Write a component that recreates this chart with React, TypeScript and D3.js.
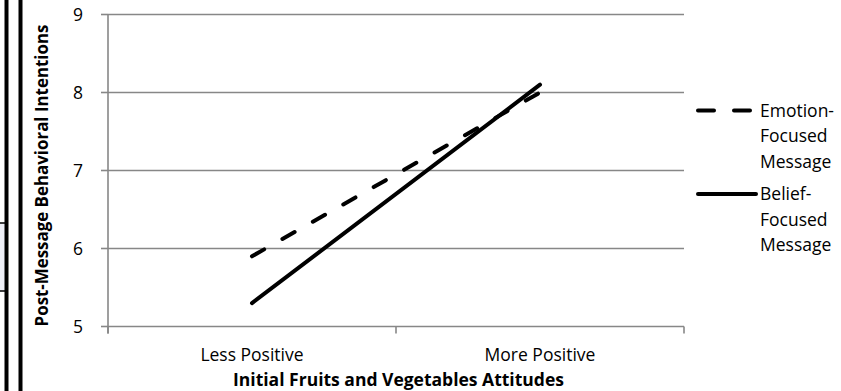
import React from "react";
import * as d3 from "d3";

const categories = ["Less Positive", "More Positive"];
const emotionValues = [5.9, 8.0];
const beliefValues = [5.3, 8.1];
const yTicks = [5, 6, 7, 8, 9];
const legendEmotion = ["Emotion-", "Focused", "Message"];
const legendBelief = ["Belief-", "Focused", "Message"];
const xTitle = "Initial Fruits and Vegetables Attitudes";
const yTitle = "Post-Message Behavioral Intentions";

const W = 841;
const H = 391;
const left = 108;
const right = 684;
const top = 14.5;
const bottom = 326.5;
const FONT = "'Open Sans', sans-serif";
const GRID = "#878787";

export default function App() {
  const x = d3.scaleBand<string>().domain(categories).range([left, right]).padding(0);
  const y = d3.scaleLinear().domain([5, 9]).range([bottom, top]);
  const cx = (c: string) => (x(c) as number) + x.bandwidth() / 2;
  const line = d3
    .line<number>()
    .x((_, i) => cx(categories[i]))
    .y((d) => y(d));
  const xTickPos = [left, ...categories.slice(1).map((c) => x(c) as number), right];

  return (
    <svg
      width={W}
      height={H}
      style={{ position: "fixed", left: 0, top: 0, background: "#fff" }}
      fontFamily={FONT}
    >
      <rect x={0} y={0} width={W} height={H} fill="#fff" />
      {/* left decorations */}
      <rect x={-2} y={223} width={8.5} height={68} fill="#eef0f8" stroke="#000" strokeWidth={1.5} />
      <line x1={6.5} x2={6.5} y1={0} y2={H} stroke="#000" strokeWidth={4} />
      <line x1={20.5} x2={20.5} y1={0} y2={H} stroke="#000" strokeWidth={4} />

      {/* gridlines */}
      {yTicks.slice(1).map((t) => (
        <line key={t} x1={left} x2={right} y1={y(t)} y2={y(t)} stroke={GRID} strokeWidth={1.6} />
      ))}
      {/* axes */}
      <line x1={left} x2={left} y1={top} y2={bottom + 7} stroke={GRID} strokeWidth={1.6} />
      <line x1={left} x2={right} y1={bottom} y2={bottom} stroke={GRID} strokeWidth={1.6} />
      {yTicks.map((t) => (
        <g key={t}>
          <line x1={left - 7} x2={left} y1={y(t)} y2={y(t)} stroke={GRID} strokeWidth={1.6} />
          <text x={83} y={y(t)} dy="0.35em" textAnchor="end" fontSize={17.5} fill="#000">
            {t}
          </text>
        </g>
      ))}
      {xTickPos.map((p, i) => (
        <line key={i} x1={p} x2={p} y1={bottom} y2={bottom + 7} stroke={GRID} strokeWidth={1.6} />
      ))}
      {categories.map((c) => (
        <text key={c} x={cx(c)} y={361} textAnchor="middle" fontSize={17.5} fill="#000">
          {c}
        </text>
      ))}
      <text x={398.5} y={386} textAnchor="middle" fontSize={17.5} fontWeight="bold" fill="#000">
        {xTitle}
      </text>
      <text
        transform={`translate(48, 175.5) rotate(-90)`}
        textAnchor="middle"
        fontSize={16.9}
        fontWeight="bold"
        fill="#000"
      >
        {yTitle}
      </text>

      {/* data lines */}
      <path
        d={line(emotionValues) as string}
        fill="none"
        stroke="#000"
        strokeWidth={4}
        strokeLinecap="round"
        strokeDasharray="14 21"
      />
      <path d={line(beliefValues) as string} fill="none" stroke="#000" strokeWidth={4} strokeLinecap="round" />

      {/* legend */}
      <line x1={698} x2={752} y1={110.5} y2={110.5} stroke="#000" strokeWidth={4} strokeLinecap="round" strokeDasharray="16 20" />
      {legendEmotion.map((s, i) => (
        <text key={i} x={760} y={110.5 + i * 25.5} dy="0.35em" fontSize={17.5} fill="#000">
          {s}
        </text>
      ))}
      <line x1={698} x2={756} y1={194} y2={194} stroke="#000" strokeWidth={4} strokeLinecap="round" />
      {legendBelief.map((s, i) => (
        <text key={i} x={760} y={194 + i * 25.5} dy="0.35em" fontSize={17.5} fill="#000">
          {s}
        </text>
      ))}
    </svg>
  );
}
